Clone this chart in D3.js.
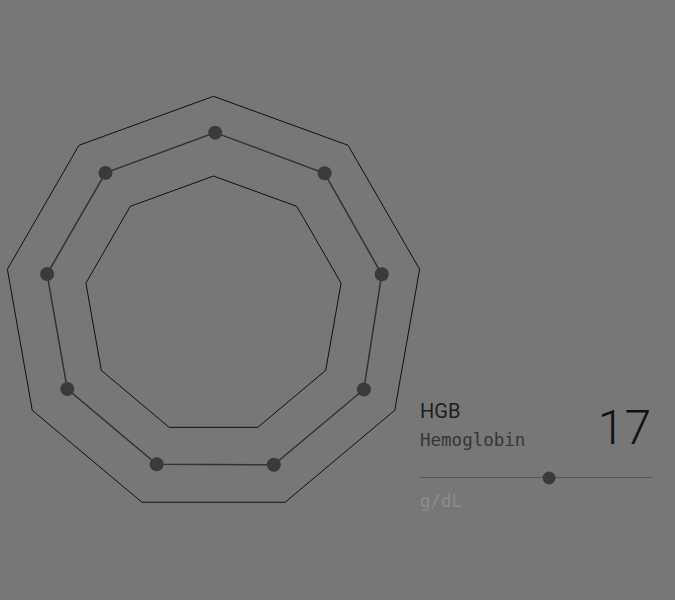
<!DOCTYPE html>
<html>
<head>
<meta charset="utf-8">
<script src="https://cdn.jsdelivr.net/npm/d3@7"></script>
<style>
  html, body { margin: 0; padding: 0; background: #777777; }
  svg { display: block; }
</style>
</head>
<body>
<svg id="chart" width="675" height="600"></svg>
<script>
// ---- data ----
const axes = ["HGB", "HCT", "RBC", "MCV", "MCH", "MCHC", "RDW", "WBC", "PLT"];
const values = [0.817, 0.813, 0.808, 0.820, 0.819, 0.8165, 0.816, 0.8157, 0.8155]; // normalized to reference range
const rangeLevels = [0.619, 1.0]; // low / high reference rings
const selected = { code: "HGB", name: "Hemoglobin", value: 17, unit: "g/dL" };
const selectedRange = [12, 21];

// ---- layout ----
const svg = d3.select("#chart");
const cx = 213.5, cy = 305.6, R = 209.3;
const n = axes.length;
const angle = d3.scaleLinear().domain([0, n]).range([-Math.PI / 2, 1.5 * Math.PI]);
const radius = d3.scaleLinear().domain([0, 1]).range([0, R]);

const g = svg.append("g").attr("transform", `translate(${cx},${cy})`);
const gd = svg.append("g").attr("transform", `translate(${cx + 1.7},${cy - 1.95})`);
const pt = (i, v) => [Math.cos(angle(i)) * radius(v), Math.sin(angle(i)) * radius(v)];

const ring = d3.line().curve(d3.curveLinearClosed);

g.selectAll("path.ring")
  .data(rangeLevels)
  .join("path")
  .attr("class", "ring")
  .attr("d", lv => ring(axes.map((a, i) => pt(i, lv))))
  .attr("fill", "none")
  .attr("stroke", "#111")
  .attr("stroke-width", 1);

gd.append("path")
  .attr("d", ring(values.map((v, i) => pt(i, v))))
  .attr("fill", "none")
  .attr("stroke", "#333")
  .attr("stroke-width", 1.5);

gd.selectAll("circle.dot")
  .data(values)
  .join("circle")
  .attr("class", "dot")
  .attr("cx", (v, i) => pt(i, v)[0])
  .attr("cy", (v, i) => pt(i, v)[1])
  .attr("r", 7)
  .attr("fill", "#3a3a3a");

// ---- detail panel ----
const panel = svg.append("g");
panel.append("text")
  .attr("x", 420).attr("y", 418.3)
  .attr("font-family", "Roboto, sans-serif")
  .attr("font-size", 20)
  .attr("fill", "#1e1e1e")
  .text(selected.code);

panel.append("text")
  .attr("x", 420).attr("y", 446)
  .attr("font-family", "'DejaVu Sans Mono', monospace")
  .attr("font-size", 17.5)
  .attr("fill", "#363636")
  .text(selected.name);

panel.append("text")
  .attr("x", 651).attr("y", 444.3)
  .attr("text-anchor", "end")
  .attr("font-family", "Roboto, sans-serif")
  .attr("font-weight", 300)
  .attr("font-size", 48)
  .attr("fill", "#111")
  .text(selected.value);

const sx = d3.scaleLinear().domain(selectedRange).range([420.7, 651.7]);
panel.append("line")
  .attr("x1", sx.range()[0]).attr("x2", sx.range()[1])
  .attr("y1", 477.5).attr("y2", 477.5)
  .attr("stroke", "#555").attr("stroke-width", 1);
panel.append("circle")
  .attr("cx", sx(selected.value)).attr("cy", 478)
  .attr("r", 6.5)
  .attr("fill", "#3a3a3a");

panel.append("text")
  .attr("x", 420).attr("y", 506.7)
  .attr("font-family", "'DejaVu Sans Mono', monospace")
  .attr("font-size", 17.5)
  .attr("fill", "#8c8c8c")
  .text(selected.unit);
</script>
</body>
</html>
